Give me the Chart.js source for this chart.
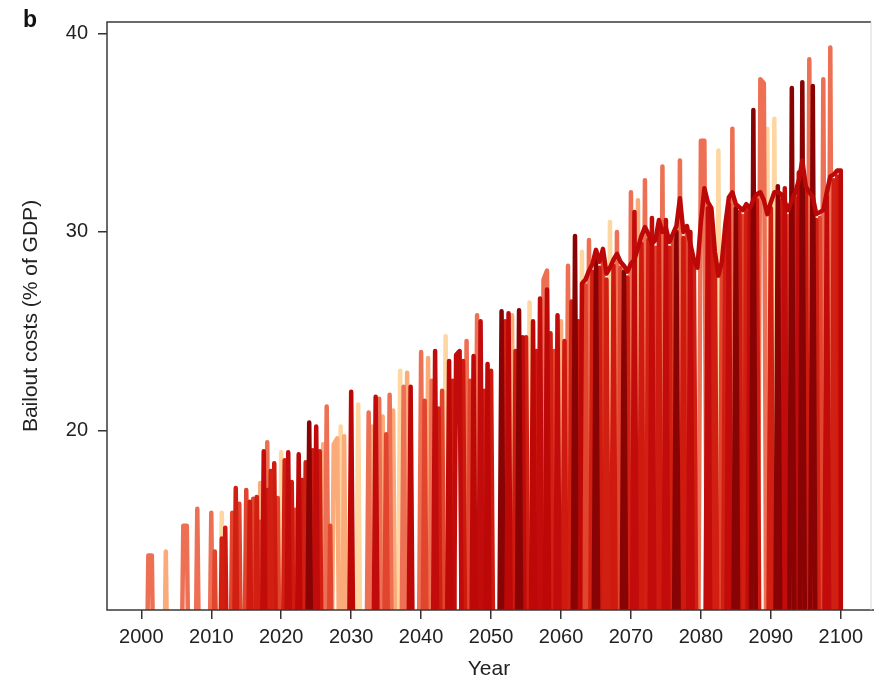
<!DOCTYPE html>
<html>
<head>
<meta charset="utf-8">
<script src="https://cdn.jsdelivr.net/npm/chart.js@4.4.1/dist/chart.umd.min.js"></script>
<style>
  html, body { margin: 0; padding: 0; background: #fff; }
</style>
</head>
<body>
<canvas id="bailoutChart" width="874" height="686"></canvas>
<script>
// axis ticks
const yearTicks = [2000, 2010, 2020, 2030, 2040, 2050, 2060, 2070, 2080, 2090, 2100];
const costTicks = [20, 30, 40];

// bailout events per run: [year, cost % of GDP]; years without a bailout are 0
const creamRun = [[2011.5, 15.85], [2020, 18.9], [2028.5, 20.2], [2031, 21.3], [2037, 23.0], [2043.5, 24.75],
  [2055.5, 26.45], [2063, 29.0], [2067, 30.5], [2082.5, 34.1], [2089.5, 35.2], [2090.5, 35.7]];

const peachRun = [[2003.5, 13.9], [2017, 17.35], [2026, 19.3], [2027.5, 19.3], [2028, 19.6], [2029, 19.7],
  [2033, 20.2], [2034.5, 20.7], [2036, 21.0], [2038, 22.9], [2041, 23.65], [2053, 25.8], [2060, 25.5], [2071, 31.6]];

const salmonRun = [[2001, 13.7], [2001.5, 13.7], [2006, 15.2], [2006.5, 15.2], [2008, 16.05], [2010, 15.85],
  [2018, 19.4], [2026.5, 21.2], [2032.5, 20.9], [2034, 21.6], [2035.5, 21.8], [2037.5, 22.2], [2040, 23.95],
  [2041.5, 22.5], [2046.5, 24.5], [2048, 25.8], [2057.5, 27.6], [2058, 28.05], [2061, 28.3], [2064, 29.6],
  [2068, 30.0], [2070, 32.0], [2072, 32.6], [2074.5, 33.3], [2077, 33.6], [2080, 34.6], [2080.5, 34.6],
  [2084.5, 35.2], [2088.5, 37.7], [2089, 37.5], [2095.5, 38.7], [2097.5, 37.7], [2098.5, 39.3]];

const orangeRun = [[2010.5, 13.9], [2013, 15.85], [2014, 16.3], [2015, 17.0], [2016, 16.55], [2017, 15.4],
  [2019.5, 16.6], [2022, 16.0], [2027, 15.2], [2035, 19.8], [2040.5, 21.5], [2043, 22.0], [2047, 22.5],
  [2059, 24.0], [2063.5, 27.3], [2066, 28.8], [2068.5, 28.2], [2073.5, 29.2], [2076, 29.6], [2078, 30.0],
  [2083, 28.2], [2086, 30.8], [2092.5, 30.8], [2097, 30.7], [2100, 32.5]];

const redRunA = [[2011.5, 14.55], [2013.5, 17.1], [2016.5, 16.65], [2018.5, 17.95], [2020.5, 18.5], [2023.5, 18.4],
  [2025.5, 18.95], [2042.5, 21.1], [2044.5, 22.5], [2049, 22.0], [2052, 25.5], [2055, 24.7], [2058.5, 24.9],
  [2061.5, 26.5], [2064.5, 28.0], [2066.5, 27.6], [2069.5, 27.7], [2072.5, 29.6], [2075.5, 29.2], [2079, 28.4],
  [2082, 28.7], [2083.5, 30.1], [2086.5, 31.1], [2090, 31.2], [2093.5, 31.7], [2096.5, 30.6], [2099, 32.6]];

const redRunB = [[2012, 15.1], [2015.5, 16.4], [2018, 17.0], [2019, 18.35], [2021.5, 17.4], [2023, 17.5],
  [2024.5, 19.0], [2046, 23.5], [2050, 23.0], [2053.5, 24.0], [2056.5, 24.0], [2060.5, 24.5], [2062.5, 25.5],
  [2065.5, 28.2], [2067.5, 28.3], [2071.5, 29.4], [2074, 30.2], [2077.5, 29.7], [2081.5, 30.9], [2085.5, 31.0],
  [2088, 31.6], [2091.5, 31.6], [2095, 32.0], [2099.5, 32.8]];

const crimsonRunB = [[2017.5, 18.95], [2021, 18.9], [2025, 20.2], [2033.5, 21.7], [2042, 24.0], [2045, 23.8],
  [2045.5, 24.0], [2048.5, 25.5], [2054.5, 24.7], [2057, 26.65], [2059.5, 25.8], [2070.5, 31.0], [2073, 30.7],
  [2075, 30.6], [2078.5, 30.0], [2081, 31.2], [2084, 31.4], [2087, 31.0], [2092, 32.2], [2094, 33.0], [2098, 31.8]];

const crimsonRunA = [[2022.5, 18.8], [2030, 21.95], [2038.5, 22.2], [2044, 23.5], [2047.5, 23.75], [2049.5, 23.35],
  [2052.5, 25.9], [2056, 25.5], [2058, 27.1],
  [2063, 27.4], [2063.5, 27.6], [2064, 28.05], [2064.5, 28.4], [2065, 29.1], [2065.5, 28.5], [2066, 29.15],
  [2066.5, 27.9], [2067, 28.2], [2067.5, 28.6], [2068, 28.9], [2068.5, 28.5], [2069, 28.3], [2069.5, 28.0],
  [2070, 28.4], [2070.5, 28.6], [2071, 29.2], [2071.5, 29.8], [2072, 30.25], [2072.5, 29.9], [2073, 29.4],
  [2073.5, 29.6], [2074, 30.6], [2074.5, 30.0], [2075, 30.2], [2075.5, 29.5], [2076, 29.9], [2076.5, 30.3],
  [2077, 31.7], [2077.5, 30.0], [2078, 30.3], [2078.5, 29.4], [2079, 28.6], [2079.5, 28.2], [2080, 30.5],
  [2080.5, 32.2], [2081, 31.5], [2081.5, 31.2], [2082, 29.0], [2082.5, 27.8], [2083, 28.5], [2083.5, 30.4],
  [2084, 31.75], [2084.5, 32.0], [2085, 31.4], [2085.5, 31.25], [2086, 31.1], [2086.5, 31.4], [2087, 31.2],
  [2087.5, 31.6], [2088, 31.9], [2088.5, 32.0], [2089, 31.6], [2089.5, 30.9], [2090, 31.5], [2090.5, 32.0],
  [2091, 32.0], [2091.5, 31.9], [2092, 31.5], [2092.5, 31.1], [2093, 31.6], [2093.5, 32.0], [2094, 32.6],
  [2094.5, 33.6], [2095, 32.3], [2095.5, 32.0], [2096, 31.75], [2096.5, 30.9], [2097, 31.0], [2097.5, 31.1],
  [2098, 32.0], [2098.5, 32.8], [2099, 32.9], [2099.5, 33.1], [2100, 33.1]];

const maroonRun = [[2024, 20.4], [2051.5, 26.0], [2054, 26.05], [2062, 29.8], [2065, 28.8], [2069, 28.0],
  [2076.5, 30.0], [2085, 31.2], [2087.5, 36.15], [2091, 32.3], [2093, 37.25], [2094.5, 37.55], [2096, 37.35]];

// model time step (years)
const step = 0.5;
const lastYear = 2100;

// first run in the list is drawn on top
const runs = [
  { events: crimsonRunA, color: '#bd0808' },
  { events: maroonRun, color: '#880404' },
  { events: crimsonRunB, color: '#c20b0b' },
  { events: redRunA, color: '#d11f12' },
  { events: redRunB, color: '#cf1a10' },
  { events: orangeRun, color: '#e1452d' },
  { events: salmonRun, color: '#ee7054' },
  { events: peachRun, color: '#fbab7a' },
  { events: creamRun, color: '#fdd6a2' }
];

function toPoints(events) {
  const ev = events.slice().sort((a, b) => a[0] - b[0]);
  const pts = [];
  ev.forEach(([year, cost], i) => {
    const prev = ev[i - 1];
    const next = ev[i + 1];
    if (!prev || prev[0] !== year - step) pts.push({ x: year - step, y: 0 });
    pts.push({ x: year, y: cost });
    if (!next || next[0] !== year + step) pts.push({ x: Math.min(year + step, lastYear), y: 0 });
  });
  return pts;
}

const fontFamily = '"Liberation Sans", Arial, Helvetica, sans-serif';
Chart.defaults.font.family = fontFamily;
Chart.defaults.color = '#222';

const frame = {
  id: 'frame',
  afterDatasetsDraw(chart) {
    const { ctx, chartArea: a } = chart;
    ctx.save();
    ctx.strokeStyle = '#3a3a3a';
    ctx.lineWidth = 1.5;
    ctx.beginPath();
    ctx.moveTo(a.right, a.top);
    ctx.lineTo(a.left, a.top);
    ctx.lineTo(a.left, a.bottom);
    ctx.lineTo(a.right + 3, a.bottom);
    ctx.stroke();
    ctx.strokeStyle = '#d6d6d6';
    ctx.lineWidth = 1;
    ctx.beginPath();
    ctx.moveTo(a.right, a.top);
    ctx.lineTo(a.right, a.bottom);
    ctx.stroke();
    ctx.fillStyle = '#111';
    ctx.font = 'bold 23px ' + fontFamily;
    ctx.textBaseline = 'alphabetic';
    ctx.fillText('b', 23, 27);
    ctx.restore();
  }
};

const tickGrid = {
  display: true,
  drawOnChartArea: false,
  drawTicks: true,
  tickLength: 9,
  color: '#333',
  lineWidth: 1.5
};

new Chart(document.getElementById('bailoutChart').getContext('2d'), {
  type: 'line',
  data: {
    datasets: runs.map(r => ({
      data: toPoints(r.events),
      borderColor: r.color,
      backgroundColor: r.color,
      borderWidth: 4.5,
      borderJoinStyle: 'round',
      borderCapStyle: 'round',
      pointRadius: 0,
      tension: 0,
      fill: false,
      clip: 0
    }))
  },
  options: {
    responsive: false,
    animation: false,
    layout: { padding: { top: 22, right: 3, bottom: 0, left: 0 } },
    plugins: {
      legend: { display: false },
      tooltip: { enabled: false }
    },
    scales: {
      x: {
        type: 'linear',
        min: 1995.09,
        max: 2104.32,
        afterBuildTicks: scale => { scale.ticks = yearTicks.map(v => ({ value: v })); },
        afterFit: scale => { scale.height = 76; },
        ticks: {
          callback: v => String(v),
          autoSkip: false,
          maxRotation: 0,
          padding: 6,
          color: '#222',
          font: { size: 20 }
        },
        grid: tickGrid,
        border: { display: false },
        title: {
          display: true,
          text: 'Year',
          color: '#222',
          font: { size: 21 },
          padding: { top: 0, bottom: 4 }
        }
      },
      y: {
        type: 'linear',
        min: 10.95,
        max: 40.58,
        afterBuildTicks: scale => { scale.ticks = costTicks.map(v => ({ value: v })); },
        afterFit: scale => { scale.width = 107; },
        ticks: {
          callback: v => String(v),
          padding: 10,
          color: '#222',
          font: { size: 20 }
        },
        grid: tickGrid,
        border: { display: false },
        title: {
          display: true,
          text: 'Bailout costs (% of GDP)',
          color: '#222',
          font: { size: 21 },
          padding: { top: 19, bottom: 0 }
        }
      }
    }
  },
  plugins: [frame]
});
</script>
</body>
</html>
